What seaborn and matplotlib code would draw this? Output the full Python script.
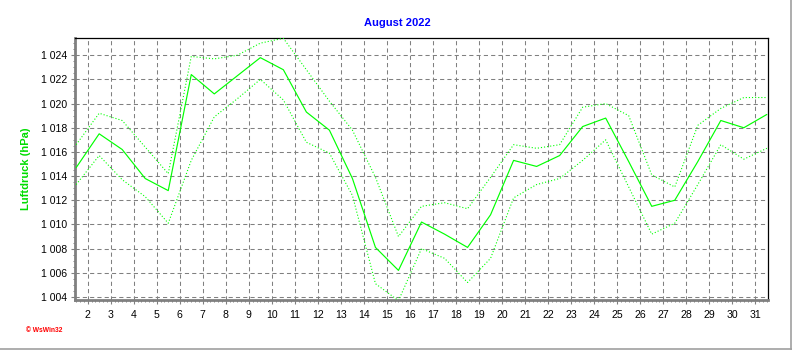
import matplotlib
matplotlib.use("Agg")
import matplotlib.pyplot as plt
from matplotlib.lines import Line2D
from matplotlib.ticker import FixedLocator, MultipleLocator, FuncFormatter
import numpy as np
import pandas as pd
import seaborn as sns

# Daily air pressure, August 2022 (one point per day, plotted at midday)
days = [1.5, 2.5, 3.5, 4.5, 5.5, 6.5, 7.5, 8.5, 9.5, 10.5,
        11.5, 12.5, 13.5, 14.5, 15.5, 16.5, 17.5, 18.5, 19.5, 20.5,
        21.5, 22.5, 23.5, 24.5, 25.5, 26.5, 27.5, 28.5, 29.5, 30.5, 31.5]
p_mean = [1014.7, 1017.5, 1016.2, 1013.8, 1012.8, 1022.4, 1020.8, 1022.3, 1023.8, 1022.8,
          1019.3, 1017.8, 1013.8, 1008.1, 1006.2, 1010.2, 1009.2, 1008.1, 1010.8, 1015.3,
          1014.8, 1015.7, 1018.1, 1018.8, 1015.2, 1011.5, 1012.0, 1015.2, 1018.6, 1018.0, 1019.1]
p_max = [1016.6, 1019.2, 1018.6, 1016.4, 1014.2, 1023.9, 1023.7, 1024.0, 1025.0, 1025.4,
         1022.8, 1020.2, 1017.8, 1013.9, 1009.0, 1011.5, 1011.8, 1011.3, 1013.9, 1016.6,
         1016.3, 1016.6, 1019.7, 1020.0, 1019.0, 1014.1, 1013.1, 1018.2, 1019.6, 1020.5, 1020.5]
p_min = [1013.3, 1015.7, 1013.7, 1012.3, 1010.1, 1015.3, 1018.9, 1020.4, 1022.0, 1020.3,
         1016.8, 1015.9, 1012.4, 1005.1, 1003.7, 1008.0, 1007.2, 1005.2, 1007.2, 1012.2,
         1013.3, 1013.8, 1015.3, 1017.0, 1013.1, 1009.2, 1010.1, 1013.3, 1016.6, 1015.4, 1016.3]
day_ticks = list(range(2, 32))

df = pd.DataFrame({"day": days, "mean": p_mean, "max": p_max, "min": p_min})

sns.set_style("white")
plt.rcParams["font.family"] = ["Liberation Sans", "DejaVu Sans"]

W, H = 792, 350
fig = plt.figure(figsize=(W / 100, H / 100), dpi=100)
ax = fig.add_axes([75 / W, 1 - 300 / H, (768 - 75) / W, (300 - 37.7) / H])

green = "#00ff00"
dotted = (0, (1, 1.8))
sns.lineplot(data=df, x="day", y="max", ax=ax, color=green, linewidth=0.8,
             linestyle=dotted, zorder=3)
sns.lineplot(data=df, x="day", y="min", ax=ax, color=green, linewidth=0.8,
             linestyle=dotted, zorder=3)
sns.lineplot(data=df, x="day", y="mean", ax=ax, color=green, linewidth=0.85,
             zorder=4)

ax.set_xlim(1.45, 31.55)
ax.set_ylim(1003.75, 1025.45)

# Ticks
ax.xaxis.set_major_locator(FixedLocator(day_ticks))
ax.xaxis.set_major_formatter(FuncFormatter(lambda v, p: f"{int(round(v))}"))
ax.xaxis.set_minor_locator(MultipleLocator(1 / 6))
ax.yaxis.set_major_locator(MultipleLocator(2))
ax.yaxis.set_minor_locator(MultipleLocator(0.5))
ax.yaxis.set_major_formatter(
    FuncFormatter(lambda v, p: f"{int(round(v)):,}".replace(",", " ")))
ax.tick_params(axis="both", which="major", direction="out", length=3.2,
               width=0.8, color="#808080", labelsize=7.6, labelcolor="black")
ax.tick_params(axis="x", which="major", pad=4)
ax.tick_params(axis="y", which="major", pad=2.5)
ax.tick_params(axis="both", which="minor", direction="out", length=1.6,
               width=0.7, color="#808080")
ax.tick_params(bottom=True, left=True, top=False, right=False)
ax.tick_params(which="minor", bottom=True, left=True, top=False, right=False)

# Grid
ax.grid(True, which="major", color="#808080", linewidth=0.75,
        linestyle=(0, (4, 3)), zorder=1)
ax.set_axisbelow(True)

# Frame
for side in ("left", "bottom"):
    ax.spines[side].set_color("#808080")
    ax.spines[side].set_linewidth(2.0)
for side in ("top", "right"):
    ax.spines[side].set_color("black")
    ax.spines[side].set_linewidth(0.9)
    ax.spines[side].set_visible(True)

ax.set_xlabel("")
ax.set_ylabel("Luftdruck (hPa)", color="#00dd00", fontsize=8, fontweight="bold")
ax.yaxis.set_label_coords((31 - 75) / (768 - 75), 0.5)

fig.text(397 / W, 1 - 22.5 / H, "August 2022", ha="center", va="center",
         color="#0000ff", fontsize=8, fontweight="bold")
fig.text(26 / W, 1 - 331 / H, "\u00a9 WsWin32", ha="left", va="center",
         color="#ff0000", fontsize=4.8, fontweight="bold")

# Window border on the right and bottom
fig.add_artist(Line2D([790.5 / W, 790.5 / W], [0, 1], transform=fig.transFigure,
                      color="#a0a0a0", linewidth=1.2))
fig.add_artist(Line2D([0, 1], [1 - 348.5 / H, 1 - 348.5 / H], transform=fig.transFigure,
                      color="#a0a0a0", linewidth=1.2))

fig.savefig("out.png", dpi=100, facecolor="white")
